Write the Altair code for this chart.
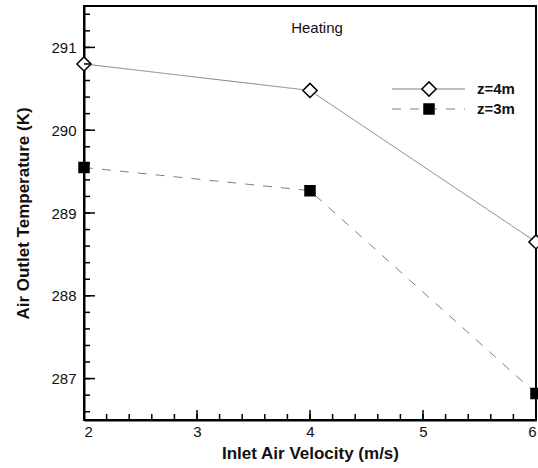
import altair as alt
import pandas as pd

# Inlet air velocity (m/s) and air outlet temperature (K) for two heights
velocity = [2, 4, 6]
temp_z4 = [290.80, 290.48, 288.65]
temp_z3 = [289.55, 289.27, 286.82]
series_names = ["z=4m", "z=3m"]

x_major = [2, 3, 4, 5, 6]
y_major = [287, 288, 289, 290, 291]
x_minor = [round(2 + 0.2 * i, 1) for i in range(21)]
y_minor = [round(286.6 + 0.2 * i, 1) for i in range(25)]

W, H = 452, 414
FONT = "Liberation Sans"
X_DOMAIN = [2, 6]
Y_DOMAIN = [286.5, 291.5]

# One table: the measured points plus the tick positions along each axis
rows = []
for name, temps in zip(series_names, [temp_z4, temp_z3]):
    for v, t in zip(velocity, temps):
        rows.append({"v": v, "T": t, "series": name, "kind": "data"})
for v in x_major:
    rows.append({"v": v, "T": Y_DOMAIN[0], "series": "", "kind": "xmaj"})
for v in x_minor:
    rows.append({"v": v, "T": Y_DOMAIN[0], "series": "", "kind": "xmin"})
for t in y_major:
    rows.append({"v": X_DOMAIN[0], "T": t, "series": "", "kind": "ymaj"})
for t in y_minor:
    rows.append({"v": X_DOMAIN[0], "T": t, "series": "", "kind": "ymin"})
df = pd.DataFrame(rows)

xs = alt.Scale(domain=X_DOMAIN, nice=False, zero=False)
ys = alt.Scale(domain=Y_DOMAIN, nice=False, zero=False)

x_axis = alt.Axis(values=x_major, format="d", ticks=False, grid=False,
                  domainColor="black", domainWidth=2, labelFontSize=15,
                  labelFont=FONT, labelColor="#111", labelPadding=4,
                  title="Inlet Air Velocity (m/s)", titleFont=FONT,
                  titleFontSize=17, titleFontWeight="bold", titleColor="#111",
                  titlePadding=6)
y_axis = alt.Axis(values=y_major, format="d", ticks=False, grid=False,
                  domainColor="black", domainWidth=2, labelFontSize=15,
                  labelFont=FONT, labelColor="#111", labelPadding=8,
                  title="Air Outlet Temperature (K)", titleFont=FONT,
                  titleFontSize=17, titleFontWeight="bold", titleColor="#111",
                  titlePadding=18)

base = alt.Chart(df)
measured = base.transform_filter(alt.datum.kind == "data")

lines = measured.mark_line(color="#808080", strokeWidth=1).encode(
    x=alt.X("v:Q", scale=xs, axis=x_axis),
    y=alt.Y("T:Q", scale=ys, axis=y_axis),
    strokeDash=alt.StrokeDash("series:N",
                              scale=alt.Scale(domain=series_names, range=[[1, 0], [9, 9]]),
                              legend=None),
    detail="series:N",
)

points = measured.mark_point(filled=True, stroke="black", strokeWidth=1.5, opacity=1).encode(
    x=alt.X("v:Q", scale=xs),
    y=alt.Y("T:Q", scale=ys),
    shape=alt.Shape("series:N", scale=alt.Scale(domain=series_names, range=["diamond", "square"]),
                    legend=None),
    fill=alt.Fill("series:N", scale=alt.Scale(domain=series_names, range=["white", "black"]),
                  legend=None),
    size=alt.Size("series:N", scale=alt.Scale(domain=series_names, range=[200, 100]),
                  legend=None),
)

# Inward ticks as one-sided stroke symbols anchored on the axis line;
# a symbol path spans sqrt(size)/2 pixels per unit
def tick_layer(kind, path, length):
    return base.transform_filter(alt.datum.kind == kind).mark_point(
        shape=path, filled=False, stroke="black", strokeWidth=1.5,
        size=(2 * length) ** 2, opacity=1
    ).encode(x=alt.X("v:Q", scale=xs), y=alt.Y("T:Q", scale=ys))

ticks = [
    tick_layer("xmaj", "M0,0L0,-1", 10),
    tick_layer("xmin", "M0,0L0,-1", 6),
    tick_layer("ymaj", "M0,0L1,0", 11),
    tick_layer("ymin", "M0,0L1,0", 6),
]

# Legend drawn in the upper right of the plot area
legend_rows = pd.DataFrame({"label": series_names})

def legend_row(i, dash, shape, fill, size, ypix):
    row = alt.Chart(legend_rows.iloc[[i]])
    line = row.mark_rule(color="#808080", strokeWidth=1, strokeDash=dash).encode(
        x=alt.value(308), x2=alt.value(381), y=alt.value(ypix))
    mark = row.mark_point(shape=shape, filled=True, fill=fill, stroke="black",
                          strokeWidth=1.5, size=size, opacity=1).encode(
        x=alt.value(345), y=alt.value(ypix))
    text = row.mark_text(align="left", baseline="middle", font=FONT, fontSize=15,
                         fontWeight="bold", color="#111").encode(
        x=alt.value(393), y=alt.value(ypix), text="label:N")
    return [line, mark, text]

legend = legend_row(0, [1, 0], "diamond", "white", 200, 83) + \
         legend_row(1, [9, 9], "square", "black", 100, 103)

heading = alt.Chart(pd.DataFrame({"t": ["Heating"]})).mark_text(
    font=FONT, fontSize=15, color="#111", align="center", baseline="middle"
).encode(x=alt.value(233), y=alt.value(22), text="t:N")

chart = alt.layer(lines, points, *ticks, *legend, heading).properties(
    width=W, height=H,
    padding={"left": 84, "top": 6, "right": 2, "bottom": 48},
    autosize=alt.AutoSizeParams(type="none"),
    background="white",
).configure_view(stroke="black", strokeWidth=2)

chart.save("out.html", embed_options={"renderer": "svg", "actions": False})
